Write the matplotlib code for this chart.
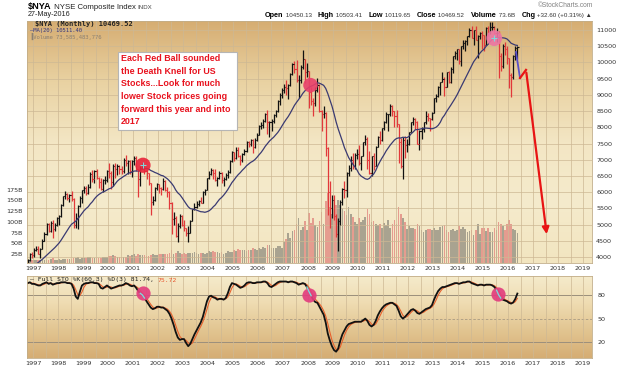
import matplotlib
matplotlib.use("Agg")
import matplotlib.pyplot as plt
from matplotlib.colors import LinearSegmentedColormap
from matplotlib.patches import Rectangle
import numpy as np
import pandas as pd

# monthly bars, Oct 1996 .. May 2016 (NYSE Composite, monthly)
months = pd.period_range("1996-10", "2016-05", freq="M")

close = [
    3900, 4100, 4060,
    4230, 4260, 4100, 4250, 4500, 4700, 5020, 4800, 5060, 4850, 5000, 5200,
    5250, 5600, 5870, 5940, 5820, 5900, 5780, 5000, 5200, 5580, 5820, 6060,
    6130, 5980, 6160, 6550, 6400, 6640, 6450, 6320, 6110, 6360, 6380, 6650,
    6600, 6300, 6800, 6720, 6800, 6720, 6650, 7000, 6900, 6950, 6650, 6946,
    7050, 6700, 6400, 6750, 6830, 6650, 6580, 6270, 5700, 5750, 6120, 6237,
    6120, 6100, 6350, 6080, 6000, 5650, 5180, 5200, 4650, 4950, 5250, 5000,
    4880, 4750, 4750, 5120, 5470, 5530, 5620, 5730, 5680, 6000, 6080, 6440,
    6550, 6680, 6600, 6380, 6450, 6600, 6380, 6400, 6530, 6620, 6950, 7250,
    7050, 7300, 7130, 6980, 7180, 7260, 7550, 7480, 7600, 7380, 7600, 7754,
    8050, 8060, 8200, 8400, 8150, 8170, 8200, 8370, 8500, 8800, 9000, 9139,
    9250, 9200, 9300, 9650, 9950, 9800, 9450, 9450, 9850, 10100, 9700, 9740,
    9100, 8800, 8750, 9150, 9300, 8500, 8400, 8450, 7350, 6000, 5500, 5757,
    5250, 4700, 5120, 5700, 6100, 6080, 6600, 6750, 7000, 6800, 7150, 7185,
    6900, 7100, 7550, 7650, 7000, 6600, 7100, 6800, 7400, 7700, 7600, 7964,
    8150, 8400, 8400, 8650, 8500, 8350, 8100, 7550, 6800, 7600, 7450, 7477,
    7850, 8150, 8250, 8150, 7500, 7900, 7950, 8150, 8350, 8300, 8250, 8444,
    8900, 8950, 9250, 9400, 9500, 9250, 9700, 9400, 9800, 10200, 10300, 10400,
    10050, 10500, 10600, 10650, 10800, 11000, 10750, 11000, 10700, 10800, 10900, 10840,
    10550, 11050, 10950, 11100, 11100, 10900, 10900, 10200, 9900, 10500, 10400, 10143,
    9600, 9550, 10200, 10437, 10469.52,
]

high = [
    3950, 4130, 4160,
    4270, 4340, 4330, 4280, 4540, 4760, 5060, 5050, 5100, 5150, 5050, 5230,
    5280, 5620, 5890, 6020, 5980, 5930, 6050, 5820, 5350, 5610, 5870, 6080,
    6200, 6180, 6260, 6620, 6670, 6670, 6720, 6470, 6440, 6400, 6500, 6680,
    6900, 6650, 6880, 6900, 6860, 6850, 6820, 7060, 7140, 6990, 6980, 6990,
    7100, 7100, 6720, 6800, 6900, 6850, 6680, 6600, 6280, 5880, 6150, 6280,
    6260, 6150, 6450, 6360, 6150, 6020, 5700, 5380, 5250, 5060, 5320, 5290,
    5150, 4900, 4960, 5150, 5480, 5650, 5720, 5760, 5860, 6020, 6100, 6450,
    6650, 6760, 6720, 6700, 6480, 6640, 6610, 6470, 6600, 6680, 6980, 7260,
    7250, 7380, 7400, 7160, 7200, 7320, 7570, 7570, 7640, 7650, 7680, 7820,
    8080, 8150, 8250, 8430, 8540, 8200, 8260, 8400, 8540, 8830, 9050, 9200,
    9330, 9450, 9350, 9680, 9970, 10050, 10080, 9600, 9920, 10387, 10120, 9990,
    9750, 9250, 8900, 9230, 9520, 9340, 8520, 8650, 8480, 7400, 6350, 5900,
    5900, 5340, 5200, 5760, 6120, 6350, 6620, 6850, 7100, 7200, 7200, 7330,
    7440, 7130, 7560, 7750, 7700, 7280, 7120, 7200, 7410, 7720, 7880, 7970,
    8200, 8480, 8420, 8720, 8690, 8510, 8520, 8110, 7660, 7690, 7740, 7650,
    7870, 8170, 8320, 8280, 8190, 7910, 8000, 8170, 8500, 8440, 8300, 8480,
    8910, 9030, 9270, 9410, 9690, 9560, 9720, 9740, 9870, 10210, 10340, 10410,
    10420, 10520, 10680, 10680, 10810, 11060, 11110, 11010, 11110, 10850, 10950, 10960,
    10850, 11090, 11120, 11240, 11250, 11120, 11050, 10960, 10300, 10560, 10620, 10520,
    10150, 9660, 10230, 10520, 10503.41,
]

low = [
    3780, 3880, 3980,
    4000, 4180, 4080, 3980, 4240, 4480, 4680, 4760, 4780, 4600, 4800, 4950,
    5000, 5230, 5580, 5800, 5760, 5700, 5740, 4880, 4900, 4850, 5550, 5680,
    5970, 5900, 5940, 6130, 6300, 6280, 6400, 6130, 6060, 6000, 6260, 6300,
    6450, 6100, 6180, 6450, 6520, 6560, 6560, 6600, 6800, 6550, 6550, 6480,
    6850, 6650, 5850, 6180, 6700, 6550, 6420, 6220, 5300, 5600, 5720, 6060,
    5960, 5900, 6080, 6020, 5860, 5480, 4700, 4980, 4620, 4450, 4900, 4950,
    4800, 4650, 4450, 4740, 5100, 5450, 5500, 5560, 5650, 5680, 5920, 6070,
    6420, 6520, 6400, 6350, 6200, 6420, 6280, 6200, 6380, 6430, 6600, 6930,
    6960, 7020, 7080, 6850, 6930, 7140, 7250, 7380, 7420, 7200, 7350, 7580,
    7750, 7950, 7980, 8150, 7800, 7700, 7900, 8120, 8330, 8480, 8700, 8900,
    9050, 9000, 8860, 9280, 9600, 9680, 9400, 8900, 9380, 9800, 9380, 9550,
    8600, 8680, 8350, 8660, 9080, 8460, 7880, 8300, 7100, 5300, 4900, 5200,
    5150, 4620, 4181, 5000, 5600, 5820, 5850, 6500, 6650, 6720, 6720, 7030,
    6840, 6690, 7100, 7450, 6700, 6550, 6500, 6680, 6800, 7390, 7500, 7580,
    7920, 8120, 7900, 8350, 8350, 8000, 8020, 6900, 6750, 6410, 7050, 7230,
    7440, 7850, 8080, 7950, 7470, 7300, 7630, 7850, 8100, 8180, 7900, 8220,
    8430, 8780, 8930, 9000, 9400, 8980, 9240, 9380, 9380, 9680, 10120, 10080,
    9960, 9900, 10400, 10350, 10530, 10790, 10740, 10550, 10680, 10150, 10720, 10420,
    10350, 10550, 10820, 10880, 10980, 10870, 10640, 9510, 9740, 9830, 10230, 9960,
    9200, 8937, 9500, 10090, 10119.65,
]

# monthly volume, billions of shares
volume_b = [
    10, 11, 11,
    12, 11, 12, 12, 11, 12, 12, 11, 13, 15, 11, 12,
    13, 12, 14, 14, 13, 14, 14, 16, 16, 17, 14, 15,
    16, 15, 17, 18, 16, 16, 15, 16, 16, 17, 17, 18,
    21, 21, 23, 21, 18, 19, 17, 18, 17, 22, 20, 22,
    24, 21, 25, 23, 22, 22, 21, 20, 23, 25, 23, 22,
    25, 24, 24, 25, 25, 28, 35, 26, 28, 33, 28, 26,
    28, 26, 28, 27, 28, 30, 27, 24, 28, 28, 25, 27,
    32, 29, 33, 30, 29, 28, 29, 26, 28, 31, 30, 29,
    34, 32, 37, 35, 34, 35, 33, 35, 35, 39, 36, 34,
    40, 36, 42, 38, 46, 45, 40, 39, 39, 43, 44, 38,
    52, 60, 75, 62, 78, 82, 95, 110, 80, 88, 102, 82,
    120, 98, 110, 92, 88, 102, 122, 94, 148, 168, 135, 118,
    130, 140, 150, 140, 132, 125, 115, 135, 118, 112, 100, 94,
    110, 100, 104, 112, 130, 118, 100, 102, 96, 92, 96, 86,
    98, 92, 104, 86, 94, 104, 96, 135, 118, 110, 100, 84,
    90, 86, 86, 84, 96, 90, 82, 76, 82, 84, 84, 80,
    86, 82, 82, 88, 90, 92, 80, 76, 80, 84, 78, 80,
    90, 84, 88, 84, 76, 78, 80, 70, 80, 96, 72, 86,
    86, 78, 86, 76, 76, 86, 82, 100, 94, 90, 82, 96,
    104, 96, 84, 80, 73.6,
]

# Full STO %K(60,3)
sto_k = [
    95, 96, 94,
    94, 93, 92, 92, 94, 95, 96, 94, 95, 93, 94, 95,
    95, 96, 96, 96, 95, 95, 94, 88, 78, 75, 84, 92,
    94, 95, 95, 96, 96, 95, 95, 94, 89, 88, 90, 92,
    90, 88, 89, 90, 91, 92, 92, 93, 95, 94, 92, 91,
    92, 89, 85, 82, 80, 76, 72, 68, 64, 62, 63, 65,
    65, 64, 64, 62, 60, 56, 50, 42, 33, 26, 23, 24,
    24, 19, 15, 18, 24, 30, 35, 40, 45, 52, 62, 72,
    78, 79, 77, 76, 74, 75, 75, 74, 76, 82, 90, 95,
    94, 93, 91, 89, 90, 92, 95, 96, 96, 95, 95, 96,
    96, 96, 97, 97, 95, 91, 90, 92, 94, 96, 97, 97,
    97, 97, 96, 97, 97, 96, 95, 93, 94, 95, 94, 90,
    84, 79, 74, 71, 70, 65, 60, 55, 45, 31, 22, 15,
    10, 8, 12, 22, 30, 35, 40, 43, 44, 45, 46, 46,
    46, 46, 48, 50, 47, 42, 40, 42, 47, 54, 59, 63,
    66, 68, 69, 70, 70, 68, 66, 60, 53, 50, 52, 55,
    58, 61, 62, 60, 57, 56, 58, 60, 62, 63, 64, 67,
    74, 80, 85, 88, 90, 90, 91, 92, 93, 94, 95, 95,
    94, 95, 96, 96, 97, 97, 95, 94, 93, 92, 93, 93,
    92, 93, 93, 93, 92, 90, 86, 80, 76, 74, 73, 72,
    70, 69, 70.5, 74.9, 81.74,
]

# MA(20) before 20 months of bars exist in the table
ma_early = [3600, 3640, 3680, 3720, 3780, 3830, 3880, 3930, 3990, 4050,
            4110, 4170, 4230, 4290, 4360, 4430, 4520, 4620, 4720]

# annotations drawn on the chart
ball_dates = [2001.4, 2008.1, 2015.45]
ball_prices = [6830, 9300, 10750]
sto_ball_dates = [2001.4, 2008.05, 2015.6]
sto_ball_values = [82, 80, 81]
arrow_dates = [2016.32, 2016.48, 2016.72, 2017.56]
arrow_prices = [10320, 9520, 9770, 4620]

note_lines = ["Each Red Ball sounded", "the Death Knell for US",
              "Stocks...Look for much", "lower Stock prices going",
              "forward this year and into", "2017"]

quote_labels = ["Open", "High", "Low", "Close", "Volume", "Chg"]
quote_values = ["10450.13", "10503.41", "10119.65", "10469.52", "73.6B", "+32.60 (+0.31%) ▲"]

years = list(range(1997, 2020))
price_ticks = list(range(4000, 11001, 500))
vol_ticks = [25, 50, 75, 100, 125, 150, 175]

# ------------------------------------------------------------------
W, H = 624, 372
fig = plt.figure(figsize=(W / 100, H / 100), dpi=100)
fig.patch.set_facecolor("white")


def rect(left, top, right, bottom):
    return [left / W, 1 - bottom / H, (right - left) / W, (bottom - top) / H]


t = np.array([p.year + (p.month - 0.5) / 12 for p in months])
c = np.array(close, dtype=float)
hi = np.array(high, dtype=float)
lo = np.array(low, dtype=float)
prev = np.r_[c[0], c[:-1]]
up = c >= prev

ma = pd.Series(c).rolling(20).mean().to_numpy()
ma[:len(ma_early)] = ma_early
k = pd.Series(sto_k, dtype=float)
d = k.rolling(3, min_periods=1).mean()

XMIN, XMAX = 1996.76, 2019.36
main_box = rect(27, 21, 592, 263)
sto_box = rect(27, 276, 592, 358)

main_cmap = LinearSegmentedColormap.from_list(
    "main", ["#d6ad72", "#e9d2a2", "#f3e6c4", "#f5ebcc", "#f2e5c0"])
sto_cmap = LinearSegmentedColormap.from_list(
    "sto", ["#f5ebcc", "#efdcb2", "#e2c591", "#d5ad74"])
grad = np.linspace(0, 1, 256).reshape(-1, 1)

ax_bg = fig.add_axes(main_box)
ax_bg.imshow(grad, cmap=main_cmap, aspect="auto", extent=[0, 1, 0, 1], origin="upper")
ax_bg.set_axis_off()

ax_vol = fig.add_axes(main_box)
ax_vol.patch.set_visible(False)
ax = fig.add_axes(main_box)
ax.patch.set_visible(False)

grid_col = "#cdb894"

# volume
vol_colors = np.where(up, "#a9a390", "#e59c8f")
ax_vol.bar(t, np.array(volume_b), width=0.066, color=vol_colors, linewidth=0)
ax_vol.set_xlim(XMIN, XMAX)
ax_vol.set_ylim(4, 569)
ax_vol.set_yticks(vol_ticks)
ax_vol.set_yticklabels([f"{v}B" for v in vol_ticks])
ax_vol.tick_params(axis="y", length=0, pad=3, labelsize=4.6, labelcolor="#333333")
ax_vol.tick_params(axis="x", bottom=False, labelbottom=False)
for s in ax_vol.spines.values():
    s.set_visible(False)

# price bars
bar_colors = np.where(up, "#111111", "#e2383a")
ax.vlines(t, lo, hi, colors=bar_colors, lw=0.9)
ax.hlines(prev, t - 0.045, t, colors=bar_colors, lw=0.8)
ax.hlines(c, t, t + 0.045, colors=bar_colors, lw=0.8)
ax.plot(t, ma, color="#3a3a72", lw=0.9)

ax.set_xlim(XMIN, XMAX)
ax.set_ylim(3815, 11278)
ax.yaxis.tick_right()
ax.set_yticks(price_ticks)
ax.set_xticks(years)
ax.set_xticks(np.arange(1997.5, 2019.5, 1.0), minor=True)
ax.set_xticklabels([str(y) for y in years])
ax.tick_params(which="both", length=0)
ax.tick_params(axis="x", pad=2.5, labelsize=4.6, labelcolor="#333333")
ax.tick_params(axis="y", pad=3, labelsize=4.6, labelcolor="#333333")
ax.grid(True, which="both", color=grid_col, lw=0.5)
ax.set_axisbelow(True)
for s in ax.spines.values():
    s.set_color("#c2ad88")
    s.set_linewidth(0.6)

# red balls
ax.scatter(ball_dates, ball_prices, s=[120, 110, 130],
           c=["#e8243a", "#e8406a", "#ec76a4"], alpha=0.9, zorder=5, linewidths=0)
ax.scatter(ball_dates[::2], ball_prices[::2], marker="+", s=14, c="#7fd8dc", lw=0.8, zorder=6)

# arrow
ax.plot(arrow_dates[:2], arrow_prices[:2], color="#5a50c8", lw=1.3, zorder=6)
ax.plot(arrow_dates[1:3], arrow_prices[1:3], color="#e81414", lw=1.6, zorder=6)
ax.annotate("", xy=(arrow_dates[3], arrow_prices[3]), xytext=(arrow_dates[2], arrow_prices[2]),
            arrowprops=dict(arrowstyle="-|>", color="#e81414", lw=1.6, mutation_scale=10),
            zorder=6)

# lower panel
ax_sbg = fig.add_axes(sto_box)
ax_sbg.imshow(grad, cmap=sto_cmap, aspect="auto", extent=[0, 1, 0, 1], origin="upper")
ax_sbg.set_axis_off()
ax2 = fig.add_axes(sto_box)
ax2.patch.set_visible(False)
ax2.plot(t, d, color="#e8602c", lw=0.8)
ax2.plot(t, k, color="#111111", lw=1.3)
ax2.set_xlim(XMIN, XMAX)
ax2.set_ylim(0, 104)
ax2.yaxis.tick_right()
ax2.set_yticks([20, 50, 80])
ax2.set_xticks(years)
ax2.set_xticks(np.arange(1997.5, 2019.5, 1.0), minor=True)
ax2.set_xticklabels([str(y) for y in years])
ax2.tick_params(which="both", length=0)
ax2.tick_params(axis="x", pad=2.5, labelsize=4.6, labelcolor="#333333")
ax2.tick_params(axis="y", pad=4, labelsize=4.6, labelcolor="#333333")
ax2.grid(True, axis="x", which="both", color=grid_col, lw=0.5)
ax2.set_axisbelow(True)
ax2.axhline(80, color="#9b8f7c", lw=0.7, zorder=0.5)
ax2.axhline(20, color="#9b8f7c", lw=0.7, zorder=0.5)
ax2.axhline(50, color="#a89a82", lw=0.6, ls=(0, (3, 2)), zorder=0.5)
for s in ax2.spines.values():
    s.set_color("#c2ad88")
    s.set_linewidth(0.6)
ax2.scatter(sto_ball_dates, sto_ball_values, s=105, c="#e23e7e", alpha=0.92, zorder=5, linewidths=0)
for bd in sto_ball_dates:
    i = int(np.argmin(np.abs(t - bd)))
    ax2.plot(t[i - 1:i + 2], k[i - 1:i + 2], color="#86d6da", lw=1.0, zorder=6)

# text box
fig.patches.append(Rectangle((118 / W, 1 - 130 / H), (237 - 118) / W, (130 - 52) / H,
                             transform=fig.transFigure, fc="white", ec="#b5b5b5", lw=0.8,
                             zorder=10))
for i, line in enumerate(note_lines):
    fig.text(121 / W, 1 - (58.5 + 12.7 * i) / H, line, fontsize=6.4, fontweight="bold",
             color="#e8121e", family="Liberation Sans", va="center", ha="left", zorder=11)

# header
renderer = fig.canvas.get_renderer()


def run(x_px, y_px, parts, gap=0.0):
    x = x_px
    for s, kw in parts:
        tx = fig.text(x / W, 1 - y_px / H, s, va="baseline", ha="left", **kw)
        x += tx.get_window_extent(renderer).width + gap
    return x


sans = ["Liberation Sans", "DejaVu Sans"]
run(28, 9, [("$NYA", dict(fontsize=6.6, fontweight="bold", family=sans)),
            (" NYSE Composite Index ", dict(fontsize=5.6, family=sans, color="#222222")),
            ("INDX", dict(fontsize=4.4, family=sans, color="#444444"))])
fig.text(28 / W, 1 - 15 / H, "27-May-2016", fontsize=5.2, family=sans, va="center", color="#222222")
fig.text(593 / W, 1 - 5.5 / H, "©StockCharts.com", fontsize=4.8, family=sans, va="center",
         ha="right", color="#808080")

# quote line: measure the pieces, then spread them from x=265 to x=592
pieces = []
for lab, val in zip(quote_labels, quote_values):
    a = fig.text(0, 1 - 17 / H, lab, fontsize=5.2, fontweight="bold", family=sans, va="baseline")
    b = fig.text(0, 1 - 17 / H, " " + val, fontsize=4.5, family=sans, va="baseline", color="#333333")
    pieces.append((a, b))
widths = [a.get_window_extent(renderer).width + b.get_window_extent(renderer).width
          for a, b in pieces]
gap = (592 - 265 - sum(widths)) / (len(pieces) - 1)
x = 265.0
for (a, b), w in zip(pieces, widths):
    a.set_x(x / W)
    b.set_x((x + a.get_window_extent(renderer).width) / W)
    x += w + gap

mono = ["DejaVu Sans Mono"]
fig.text(35 / W, 1 - 24 / H, "$NYA (Monthly) 10469.52", fontsize=5.0, fontweight="bold",
         family=mono, va="center", color="#222222")
fig.text(30 / W, 1 - 30.5 / H, "—MA(20) 10511.40", fontsize=4.0, family=mono, va="center",
         color="#34347a")
fig.text(30 / W, 1 - 36.5 / H, "\u2590Volume 73,585,483,776", fontsize=4.0, family=mono,
         va="center", color="#8c8070")
run(30, 281.5, [("— Full STO %K(60,3) %D(3) 81.74, ", dict(fontsize=4.6, family=mono, color="#222222")),
                ("75.72", dict(fontsize=4.6, family=mono, color="#e8552c"))])

fig.savefig("out.png", dpi=100)
